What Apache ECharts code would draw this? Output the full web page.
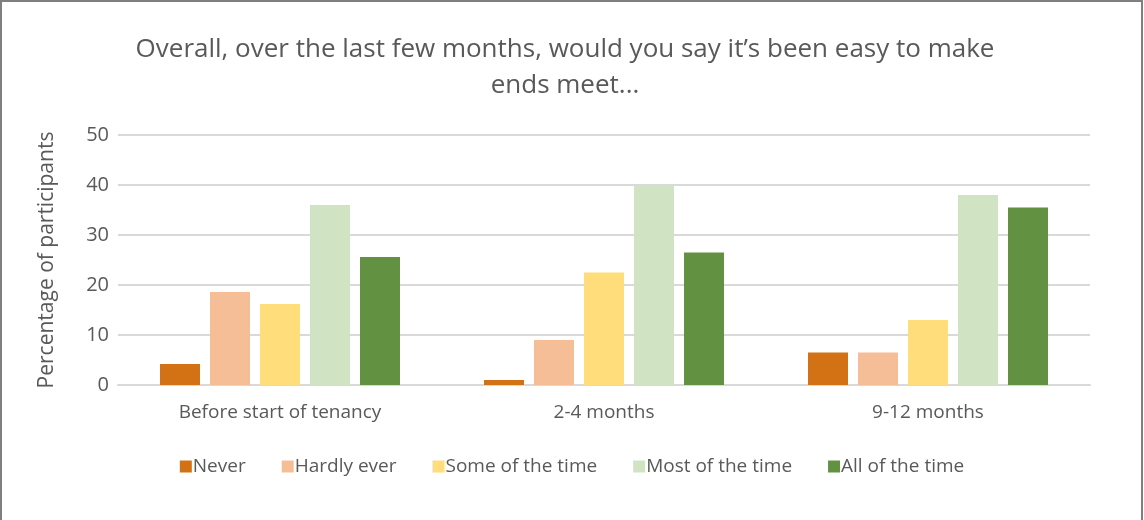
<!DOCTYPE html>
<html>
<head>
<meta charset="utf-8">
<script src="https://cdn.jsdelivr.net/npm/echarts@6/dist/echarts.min.js"></script>
<style>
  html, body { margin: 0; padding: 0; background: #fff; }
  #chart { width: 1144px; height: 520px; }
</style>
</head>
<body>
<div id="chart"></div>
<script>
// categories along the x axis
const periods = ['Before start of tenancy', '2-4 months', '9-12 months'];
// answer groups (one series each)
const answers = ['Never', 'Hardly ever', 'Some of the time', 'Most of the time', 'All of the time'];
const never = [4.2, 1.0, 6.5];
const hardlyEver = [18.6, 9.0, 6.5];
const someOfTheTime = [16.2, 22.5, 13.0];
const mostOfTheTime = [36.0, 40.0, 38.0];
const allOfTheTime = [25.6, 26.5, 35.5];

const colors = ['#d27215', '#f6be97', '#ffdd7a', '#d0e4c3', '#629142'];
const values = [never, hardlyEver, someOfTheTime, mostOfTheTime, allOfTheTime];
const textColor = '#595959';
const font = '"Open Sans", "Noto Sans", sans-serif';

var myChart = echarts.init(document.getElementById('chart'));
const option = {
  animation: false,
  textStyle: { fontFamily: font },
  title: {
    text: 'Overall, over the last few months, would you say it\u2019s been easy to make\nends meet...',
    left: 560,
    textAlign: 'center',
    top: 27,
    textStyle: {
      color: textColor,
      fontSize: 26,
      fontWeight: 'normal',
      lineHeight: 36,
      fontFamily: font
    }
  },
  graphic: [
    {
      type: 'rect',
      shape: { x: 1, y: 1, width: 1141, height: 540 },
      style: { fill: 'none', stroke: '#7f7f7f', lineWidth: 2 },
      silent: true
    }
  ],
  legend: {
    data: answers,
    bottom: 39,
    left: 'center',
    itemWidth: 12,
    itemHeight: 12,
    itemGap: 36,
    icon: 'rect',
    textStyle: { color: textColor, fontSize: 19, fontFamily: font, padding: [0, 0, 0, -4] }
  },
  grid: {
    left: 118,
    right: 54,
    top: 135,
    bottom: 135
  },
  xAxis: {
    type: 'category',
    data: periods,
    axisLine: { lineStyle: { color: '#d9d9d9', width: 2 } },
    axisTick: { show: false },
    axisLabel: { color: textColor, fontSize: 19, margin: 18, fontFamily: font }
  },
  yAxis: {
    type: 'value',
    min: 0,
    max: 50,
    interval: 10,
    name: 'Percentage of participants',
    nameLocation: 'middle',
    nameGap: 60,
    nameTextStyle: { color: textColor, fontSize: 21, fontFamily: font },
    axisLine: { show: false },
    axisTick: { show: false },
    axisLabel: { color: textColor, fontSize: 20, margin: 9, fontFamily: font },
    splitLine: { lineStyle: { color: '#d9d9d9', width: 2 } }
  },
  series: answers.map(function (name, i) {
    return {
      name: name,
      type: 'bar',
      data: values[i],
      barWidth: 40,
      barGap: '25%',
      itemStyle: { color: colors[i] }
    };
  })
};
myChart.setOption(option);
</script>
</body>
</html>
